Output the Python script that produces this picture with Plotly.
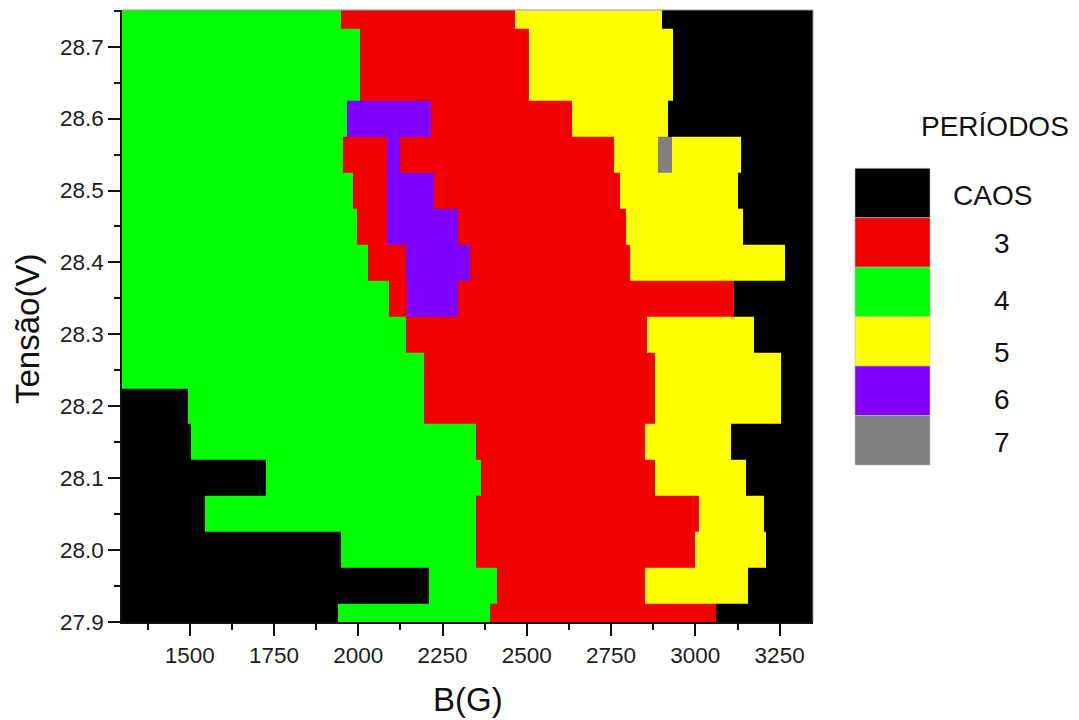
import plotly.graph_objects as go

# Voltage levels (V), one row of the map each
tensao = [27.90, 27.95, 28.00, 28.05, 28.10, 28.15, 28.20, 28.25, 28.30,
          28.35, 28.40, 28.45, 28.50, 28.55, 28.60, 28.65, 28.70, 28.75]

# Right end (G) of every constant-period segment in each row; rows start at B_inicio
B_inicio = 1290
fim_B = [
    [1940, 2390, 3060, 3360],
    [2210, 2410, 2850, 3155, 3360],
    [1950, 2350, 3000, 3210, 3360],
    [1545, 2350, 3010, 3205, 3360],
    [1725, 2365, 2880, 3150, 3360],
    [1505, 2350, 2850, 3105, 3360],
    [1495, 2195, 2880, 3255, 3360],
    [2195, 2880, 3255, 3360],
    [2140, 2855, 3175, 3360],
    [2090, 2145, 2295, 3115, 3360],
    [2030, 2140, 2330, 2805, 3265, 3360],
    [1995, 2085, 2295, 2795, 3140, 3360],
    [1985, 2085, 2225, 2775, 3125, 3360],
    [1955, 2085, 2125, 2760, 2890, 2930, 3135, 3360],
    [1965, 2215, 2635, 2920, 3360],
    [2005, 2505, 2935, 3360],
    [2005, 2505, 2935, 3360],
    [1950, 2465, 2900, 3360],
]

# Period found in each segment
periodo = [
    ["CAOS", "4", "3", "CAOS"],
    ["CAOS", "4", "3", "5", "CAOS"],
    ["CAOS", "4", "3", "5", "CAOS"],
    ["CAOS", "4", "3", "5", "CAOS"],
    ["CAOS", "4", "3", "5", "CAOS"],
    ["CAOS", "4", "3", "5", "CAOS"],
    ["CAOS", "4", "3", "5", "CAOS"],
    ["4", "3", "5", "CAOS"],
    ["4", "3", "5", "CAOS"],
    ["4", "3", "6", "3", "CAOS"],
    ["4", "3", "6", "3", "5", "CAOS"],
    ["4", "3", "6", "3", "5", "CAOS"],
    ["4", "3", "6", "3", "5", "CAOS"],
    ["4", "3", "6", "3", "5", "7", "5", "CAOS"],
    ["4", "6", "3", "5", "CAOS"],
    ["4", "3", "5", "CAOS"],
    ["4", "3", "5", "CAOS"],
    ["4", "3", "5", "CAOS"],
]

categorias = ["CAOS", "3", "4", "5", "6", "7"]
cores = ["#000000", "#F20000", "#00FF00", "#FFFF00", "#8000FF", "#808080"]

x_ticks = [1500, 1750, 2000, 2250, 2500, 2750, 3000, 3250]
y_ticks = [27.9, 28.0, 28.1, 28.2, 28.3, 28.4, 28.5, 28.6, 28.7]

# ---- build the brick grid of the map ----
bordas_x = sorted({B_inicio} | {b for linha in fim_B for b in linha})
meio_y = 0.025
bordas_y = [round(v - meio_y, 3) for v in tensao] + [round(tensao[-1] + meio_y, 3)]

codigo = {c: i for i, c in enumerate(categorias)}
z = []
for fins, pers in zip(fim_B, periodo):
    linha = []
    for a, b in zip(bordas_x[:-1], bordas_x[1:]):
        m = 0.5 * (a + b)
        k = next(i for i, f in enumerate(fins) if m < f)
        linha.append(codigo[pers[k]])
    z.append(linha)

n = len(categorias)
escala = []
for i, c in enumerate(cores):
    escala.append([i / n, c])
    escala.append([(i + 1) / n, c])

fig = go.Figure(go.Heatmap(
    x=bordas_x, y=bordas_y, z=z,
    colorscale=escala, zmin=-0.5, zmax=n - 0.5,
    showscale=False, hoverinfo="skip",
))

FONTE = "Liberation Sans, Arial, sans-serif"
L, R, T, B = 122, 813, 10, 622
W, H = 1079, 720


def px_x(p):
    return (p - L) / (R - L)


def px_y(p):
    return (B - p) / (B - T)


fig.update_layout(
    width=W, height=H,
    margin=dict(l=L, r=W - R, t=T, b=H - B),
    paper_bgcolor="white", plot_bgcolor="white",
    font=dict(family=FONTE, size=22, color="#1c1c1c"),
    showlegend=False,
)

fig.update_xaxes(
    range=[1299, 3349], tickvals=x_ticks, ticks="outside", ticklen=12,
    tickwidth=1.5, tickcolor="#111111", showline=True, linecolor="#111111",
    linewidth=1.5, showgrid=False, zeroline=False,
    tickfont=dict(size=22.5, family=FONTE, color="#1c1c1c"),
    minor=dict(dtick=125, tick0=1250, ticks="outside", ticklen=6,
               tickwidth=1.5, tickcolor="#111111", showgrid=False),
)
fig.update_yaxes(
    range=[27.9, 28.751], tickvals=y_ticks, tickformat=".1f", ticks="outside",
    ticklen=12, tickwidth=1.5, tickcolor="#111111", showline=True,
    linecolor="#111111", linewidth=1.5, showgrid=False, zeroline=False,
    tickfont=dict(size=22.5, family=FONTE, color="#1c1c1c"),
    minor=dict(dtick=0.05, tick0=27.85, ticks="outside", ticklen=6,
               tickwidth=1.5, tickcolor="#111111", showgrid=False),
)

formas = [
    # thin frame on the top and right
    dict(type="line", xref="paper", yref="paper", x0=0, x1=1, y0=1, y1=1,
         line=dict(color="#9a9a9a", width=1)),
    dict(type="line", xref="paper", yref="paper", x0=1, x1=1, y0=0, y1=1,
         line=dict(color="#9a9a9a", width=1)),
]

# Period key: colour blocks with their labels
bloco_top, bloco_h = 168.3, 49.45
rot_y = [195, 244, 300, 352, 399, 443]
anot = []
for i, (cat, cor) in enumerate(zip(categorias, cores)):
    y0 = bloco_top + i * bloco_h
    formas.append(dict(
        type="rect", xref="paper", yref="paper",
        x0=px_x(855), x1=px_x(930), y0=px_y(y0 + bloco_h), y1=px_y(y0),
        fillcolor=cor, line=dict(width=0.6, color="#bbbbbb"),
    ))
    anot.append(dict(
        text=cat, xref="paper", yref="paper",
        x=px_x(992 if cat == "CAOS" else 1002), y=px_y(rot_y[i]),
        xanchor="center", yanchor="middle", showarrow=False,
        font=dict(size=28, family=FONTE, color="#111111"),
    ))

anot.append(dict(
    text="PERÍODOS", xref="paper", yref="paper", x=px_x(995), y=px_y(127),
    xanchor="center", yanchor="middle", showarrow=False,
    font=dict(size=28, family=FONTE, color="#111111"),
))
anot.append(dict(
    text="B(G)", xref="paper", yref="paper", x=0.5, y=px_y(699),
    xanchor="center", yanchor="middle", showarrow=False,
    font=dict(size=33, family=FONTE, color="#111111"),
))
anot.append(dict(
    text="Tensão(V)", xref="paper", yref="paper", x=px_x(28), y=px_y(329),
    xanchor="center", yanchor="middle", showarrow=False, textangle=-90,
    font=dict(size=33, family=FONTE, color="#111111"),
))

fig.update_layout(shapes=formas, annotations=anot)

fig.write_html("out.html")
